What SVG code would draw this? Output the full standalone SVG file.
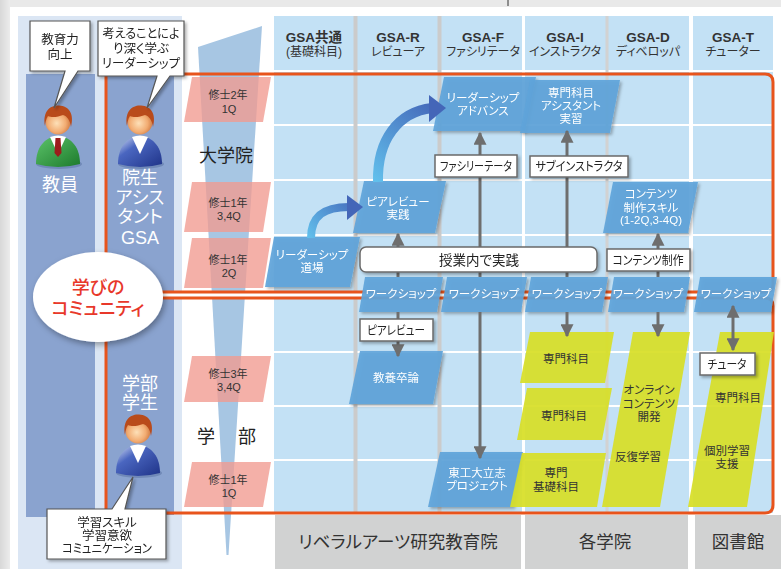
<svg xmlns="http://www.w3.org/2000/svg" xmlns:xlink="http://www.w3.org/1999/xlink" width="781" height="569" viewBox="0 0 781 569">
  <style>
    text{font-family:'Liberation Sans','Noto Sans CJK JP',sans-serif;font-feature-settings:"palt" 1;text-anchor:middle}
    .hdr{font-size:13.5px;font-weight:bold;fill:#333}
    .hsub{font-size:12px;fill:#333}
    .wt{font-size:11.5px;fill:#fff}
    .dk{font-size:11.5px;fill:#333}
    .yr{font-size:11px;fill:#333}
    .bub{font-size:12.5px;fill:#222}
    .lbt{font-size:12.5px;fill:#222}
    .side{font-size:18px;fill:#fff}
    .foot{font-size:17.5px;fill:#333}
    .blue{fill:#5ea4da;fill-opacity:.92}
    .yel{fill:#d7df27;fill-opacity:.93}
    .pink{fill:#f19a90;fill-opacity:.78}
    .lbl{fill:#fff;stroke:#6a6a6a;stroke-width:1.5}
    .bubble{fill:#fff;stroke:#555;stroke-width:1.2}
    .conn{stroke:#6e6e6e;stroke-width:3;fill:none}
    .grid-w{stroke:#fff;stroke-width:2}
    .orange{fill:none;stroke:#e8541c;stroke-width:3}
  </style>
  <defs>
    <filter id="sh" x="-20%" y="-20%" width="150%" height="160%">
      <feDropShadow dx="2" dy="2" stdDeviation="1.4" flood-color="#000" flood-opacity=".3"/>
    </filter>
    <filter id="shBig" x="-30%" y="-30%" width="160%" height="170%">
      <feDropShadow dx="2" dy="3" stdDeviation="3" flood-color="#000" flood-opacity=".35"/>
    </filter>
    <linearGradient id="pageEdge" x1="0" y1="0" x2="1" y2="0">
      <stop offset="0" stop-color="#d8d8d8"/>
      <stop offset="1" stop-color="#ececec"/>
    </linearGradient>
    <radialGradient id="face" cx=".45" cy=".55" r=".6">
      <stop offset="0" stop-color="#fde0b8"/>
      <stop offset=".6" stop-color="#f2ac72"/>
      <stop offset="1" stop-color="#c9713a"/>
    </radialGradient>
    <linearGradient id="suitG" x1="0" y1="0" x2="1" y2="1">
      <stop offset="0" stop-color="#5cc46a"/>
      <stop offset="1" stop-color="#1d7a2c"/>
    </linearGradient>
    <linearGradient id="suitB" x1="0" y1="0" x2="1" y2="1">
      <stop offset="0" stop-color="#dfe6f6"/>
      <stop offset=".35" stop-color="#4a66c0"/>
      <stop offset="1" stop-color="#1f3388"/>
    </linearGradient>
    <linearGradient id="curveA" gradientUnits="userSpaceOnUse" x1="310" y1="240" x2="360" y2="200">
      <stop offset="0" stop-color="#62c0ec"/>
      <stop offset="1" stop-color="#4466b8"/>
    </linearGradient>
    <linearGradient id="curveB" gradientUnits="userSpaceOnUse" x1="376" y1="182" x2="440" y2="105">
      <stop offset="0" stop-color="#62c0ec"/>
      <stop offset="1" stop-color="#4466b8"/>
    </linearGradient>
    <marker id="ah" viewBox="0 0 10 10" refX="9" refY="5" markerWidth="13" markerHeight="13" markerUnits="userSpaceOnUse" orient="auto-start-reverse">
      <path d="M0,0 L10,5 L0,10 Z" fill="#6e6e6e"/>
    </marker>
    <!-- person parts, origin at the centre of the head -->
    <g id="head">
      <circle cx="0" cy="0" r="12.5" fill="url(#face)"/>
      <path d="M-13,4 C-16,-12 -6,-17.5 1,-16.5 C11,-16 16.5,-8 13,5 C12,-2 9,-6 5,-7 C0,-5 -6,-4 -10,-6 C-12,-3 -12.5,0 -13,4 Z" fill="#b94b1b"/>
    </g>
    <g id="shirt">
      <path d="M-8,15 L0,32 L8,15 Q0,12 -8,15 Z" fill="#fff"/>
    </g>
    <path id="torso" d="M-22,42 C-22,26 -14,15 0,14 C14,15 22,26 22,42 Q0,48 -22,42 Z"/>
  </defs>

  <!-- page -->
  <rect x="0" y="0" width="781" height="569" fill="#e9e9e9"/>
  <rect x="0" y="0" width="10" height="569" fill="url(#pageEdge)"/>
  <rect x="10" y="7" width="771" height="562" fill="#fff"/>
  <line x1="508" y1="0" x2="508" y2="6" stroke="#333" stroke-width="1"/>

  <!-- left panel with the two role columns -->
  <rect x="18" y="16" width="164" height="553" fill="#dbe6f4"/>
  <rect x="26" y="74" width="69" height="443" fill="#8aa3cf"/>
  <rect x="106" y="75" width="68" height="440" fill="#8aa3cf"/>

  <!-- funnel behind the year labels -->
  <polygon points="198,47 262,26 228.5,555 226.5,555" fill="#a7c6e3"/>

  <!-- column header and body grid -->
  <rect x="274" y="16" width="499" height="497" fill="#c3e1f5"/>
  <rect x="274" y="70" width="499" height="2" fill="#fff"/>
  <g class="grid-w">
    <line x1="274" y1="125" x2="773" y2="125"/>
    <line x1="274" y1="180" x2="773" y2="180"/>
    <line x1="274" y1="235" x2="773" y2="235"/>
    <line x1="274" y1="352" x2="773" y2="352"/>
    <line x1="274" y1="406" x2="773" y2="406"/>
    <line x1="274" y1="460" x2="773" y2="460"/>
  </g>
  <rect x="353.5" y="16" width="4" height="497" fill="#cbcbcb"/>
  <rect x="437.5" y="16" width="4" height="497" fill="#cbcbcb"/>
  <rect x="522" y="16" width="3" height="497" fill="#fff"/>
  <rect x="605.5" y="16" width="3" height="497" fill="#d2d2d2"/>
  <rect x="689" y="16" width="4" height="497" fill="#fff"/>

  <!-- column headers -->
  <g id="hdr-common"><text class="hdr" x="314" y="42">GSA共通</text><text class="hsub" x="314" y="56">(基礎科目)</text></g>
  <g id="hdr-r"><text class="hdr" x="398" y="42">GSA-R</text><text class="hsub" x="398" y="56">レビューア</text></g>
  <g id="hdr-f"><text class="hdr" x="483" y="42">GSA-F</text><text class="hsub" x="483" y="56">ファシリテータ</text></g>
  <g id="hdr-i"><text class="hdr" x="565" y="42">GSA-I</text><text class="hsub" x="565" y="56">インストラクタ</text></g>
  <g id="hdr-d"><text class="hdr" x="648" y="42">GSA-D</text><text class="hsub" x="648" y="56">ディベロッパ</text></g>
  <g id="hdr-t"><text class="hdr" x="733" y="42">GSA-T</text><text class="hsub" x="733" y="56">チューター</text></g>

  <!-- footer -->
  <g id="footer">
    <rect x="275" y="515" width="246" height="54" fill="#d1d2d2"/>
    <rect x="525" y="515" width="163" height="54" fill="#d1d2d2"/>
    <rect x="695" y="515" width="86" height="54" fill="#d1d2d2"/>
    <text class="foot" x="398" y="548">リベラルアーツ研究教育院</text>
    <text class="foot" x="605" y="548">各学院</text>
    <text class="foot" x="738" y="548">図書館</text>
  </g>

  <!-- community frame: upper and lower bands -->
  <rect x="106" y="292" width="670" height="6" fill="#fff"/>
  <path class="orange" d="M106,292 V74 H765 Q773,74 773,82 V284 Q773,292 765,292 H106"/>
  <path class="orange" d="M106,298 H765 Q773,298 773,306 V505 Q773,513 765,513 H106 V298"/>

  <!-- year labels -->
  <g id="yr-m2-1q"><polygon class="pink" points="192,77 271,77 263,122 184,122"/><text class="yr" x="228" y="99">修士2年</text><text class="yr" x="229" y="113">1Q</text></g>
  <g id="yr-m1-34q"><polygon class="pink" points="192,182 271,182 263,232 184,232"/><text class="yr" x="228" y="207">修士1年</text><text class="yr" x="229" y="220">3,4Q</text></g>
  <g id="yr-m1-2q"><polygon class="pink" points="192,238 271,238 263,288 184,288"/><text class="yr" x="228" y="264">修士1年</text><text class="yr" x="229" y="277">2Q</text></g>
  <g id="yr-b3-34q"><polygon class="pink" points="192,356 271,356 263,402 184,402"/><text class="yr" x="228" y="378">修士3年</text><text class="yr" x="229" y="391">3,4Q</text></g>
  <g id="yr-b1-1q"><polygon class="pink" points="192,462 271,462 263,507 184,507"/><text class="yr" x="228" y="484">修士1年</text><text class="yr" x="229" y="497">1Q</text></g>

  <text x="226" y="162" font-size="18" fill="#222">大学院</text>
  <text x="206" y="443" font-size="18" fill="#222">学</text>
  <text x="247" y="443" font-size="18" fill="#222">部</text>

  <!-- role columns text -->
  <text class="side" x="60" y="191">教員</text>
  <g class="side">
    <text class="side" x="140" y="184">院生</text>
    <text class="side" x="140" y="204">アシス</text>
    <text class="side" x="140" y="223">タント</text>
    <text class="side" x="140" y="244">GSA</text>
    <text class="side" x="140" y="390">学部</text>
    <text class="side" x="140" y="409">学生</text>
  </g>

  <!-- people -->
  <g id="teacher" transform="translate(58,122)">
    <ellipse cx="1" cy="42" rx="23" ry="5" fill="#5f78a8" opacity=".6"/>
    <use xlink:href="#torso" fill="url(#suitG)"/>
    <use xlink:href="#shirt"/>
    <path d="M-2.5,16 L2.5,16 L3.5,31 L0,35 L-3.5,31 Z" fill="#9c1c1c"/>
    <use xlink:href="#head"/>
  </g>
  <g id="grad-student" transform="translate(140,122)">
    <ellipse cx="1" cy="42" rx="23" ry="5" fill="#5f78a8" opacity=".6"/>
    <use xlink:href="#torso" fill="url(#suitB)"/>
    <use xlink:href="#shirt"/>
    <use xlink:href="#head"/>
  </g>
  <g id="undergrad" transform="translate(138,431)">
    <ellipse cx="1" cy="42" rx="23" ry="5" fill="#5f78a8" opacity=".6"/>
    <use xlink:href="#torso" fill="url(#suitB)"/>
    <use xlink:href="#shirt"/>
    <use xlink:href="#head"/>
  </g>

  <!-- speech bubbles -->
  <g id="bubble-teacher" filter="url(#sh)">
    <path class="bubble" d="M30,21 H90 V71 H78 L54,108 L65,71 H30 Z"/>
    <text class="bub" x="60" y="44">教育力</text>
    <text class="bub" x="60" y="59">向上</text>
  </g>
  <g id="bubble-grad" filter="url(#sh)">
    <path class="bubble" d="M98,21 H184 V76 H170 L147,108 L157,76 H98 Z"/>
    <text class="bub" x="141" y="38" textLength="77" lengthAdjust="spacingAndGlyphs">考えることによ</text>
    <text class="bub" x="141" y="53">り深く学ぶ</text>
    <text class="bub" x="141" y="68" textLength="78" lengthAdjust="spacingAndGlyphs">リーダーシップ</text>
  </g>
  <g id="bubble-under" filter="url(#sh)">
    <path class="bubble" d="M47,509 H112 L133,477 L125,509 H166 V559 H47 Z"/>
    <text class="bub" x="107" y="527" font-size="11.5">学習スキル</text>
    <text class="bub" x="107" y="540" font-size="11.5">学習意欲</text>
    <text class="bub" x="107" y="553" font-size="11.5" textLength="90" lengthAdjust="spacingAndGlyphs">コミュニケーション</text>
  </g>

  <!-- community ellipse -->
  <g id="community">
    <ellipse cx="98" cy="297" rx="65" ry="45" fill="#fff" filter="url(#shBig)"/>
    <text x="98" y="294" font-size="18" font-weight="500" fill="#e8382a">学びの</text>
    <text x="98" y="315" font-size="18" font-weight="500" fill="#e8382a">コミュニティ</text>
  </g>

  <!-- blue activity nodes -->
  <g id="leader-adv" filter="url(#sh)"><polygon class="blue" points="444,77 536,77 525,131 433,131"/><text class="wt" x="483" y="102">リーダーシップ</text><text class="wt" x="483" y="115">アドバンス</text></g>
  <g id="asst-practice" filter="url(#sh)"><polygon class="blue" points="530,80 620,80 610,133 520,133"/><text class="wt" x="571" y="97">専門科目</text><text class="wt" x="571" y="110">アシスタント</text><text class="wt" x="571" y="123">実習</text></g>
  <g id="peer-practice" filter="url(#sh)"><polygon class="blue" points="364,181 446,181 435,233 353,233"/><text class="wt" x="398" y="206">ピアレビュー</text><text class="wt" x="398" y="219">実践</text></g>
  <g id="leader-dojo" filter="url(#sh)"><polygon class="blue" points="274,237 360,237 350,287 265,287"/><text class="wt" x="312" y="259">リーダーシップ</text><text class="wt" x="312" y="272">道場</text></g>
  <g id="content-skill" filter="url(#sh)"><polygon class="blue" points="613,182 698,182 688,233 603,233"/><text class="wt" x="651" y="198">コンテンツ</text><text class="wt" x="651" y="212">制作スキル</text><text class="wt" x="651" y="224" font-size="9.5">(1-2Q,3-4Q)</text></g>
  <g id="thesis" filter="url(#sh)"><polygon class="blue" points="360,351 443,351 433,404 349,404"/><text class="wt" x="396" y="382">教養卒論</text></g>
  <g id="project" filter="url(#sh)"><polygon class="blue" points="440,452 523,452 513,507 428,507"/><text class="wt" x="477" y="477">東工大立志</text><text class="wt" x="477" y="490">プロジェクト</text></g>

  <!-- workshops -->
  <g id="ws-r" filter="url(#sh)"><polygon class="blue" points="365,277 443,277 437,312 359,312"/><text class="wt" x="401" y="298">ワークショップ</text></g>
  <g id="ws-f" filter="url(#sh)"><polygon class="blue" points="447,277 527,277 521,312 441,312"/><text class="wt" x="484" y="298">ワークショップ</text></g>
  <g id="ws-i" filter="url(#sh)"><polygon class="blue" points="531,277 608,277 602,312 525,312"/><text class="wt" x="567" y="298">ワークショップ</text></g>
  <g id="ws-d" filter="url(#sh)"><polygon class="blue" points="614,277 690,277 684,312 608,312"/><text class="wt" x="648" y="298">ワークショップ</text></g>
  <g id="ws-t" filter="url(#sh)"><polygon class="blue" points="700,277 777,277 771,312 694,312"/><text class="wt" x="736" y="298">ワークショップ</text></g>

  <!-- course nodes -->
  <g id="major-1"><polygon class="yel" points="530,332 614,332 605,383 520,383"/><text class="dk" x="566" y="363">専門科目</text></g>
  <g id="major-2"><polygon class="yel" points="527,388 612,388 602,440 517,440"/><text class="dk" x="564" y="420">専門科目</text></g>
  <g id="major-basic"><polygon class="yel" points="522,453 606,453 597,507 510,507"/><text class="dk" x="556" y="477">専門</text><text class="dk" x="556" y="491">基礎科目</text></g>
  <g id="online"><polygon class="yel" points="633,332 690,332 660,507 602,507"/><text class="dk" x="649" y="394">オンライン</text><text class="dk" x="649" y="408">コンテンツ</text><text class="dk" x="649" y="421">開発</text><text class="dk" x="638" y="461">反復学習</text></g>
  <g id="tutoring"><polygon class="yel" points="720,332 774,332 747,507 688,507"/><text class="dk" x="738" y="402">専門科目</text><text class="dk" x="727" y="455">個別学習</text><text class="dk" x="727" y="468">支援</text></g>

  <!-- connectors -->
  <g id="connectors">
    <path d="M311,238 C311,215 325,207 349,207" fill="none" stroke="url(#curveA)" stroke-width="8"/>
    <polygon points="347,195 363,207 347,220" fill="#4466b8"/>
    <path d="M378,182 C377,140 398,112 432,108" fill="none" stroke="url(#curveB)" stroke-width="10"/>
    <polygon points="429,95 446,108 429,122" fill="#4466b8"/>
    <path class="conn" d="M480,277 V133" marker-end="url(#ah)"/>
    <path class="conn" d="M480,312 V458" marker-end="url(#ah)"/>
    <path class="conn" d="M398,277 V234" marker-end="url(#ah)"/>
    <path class="conn" d="M398,312 V356" marker-end="url(#ah)"/>
    <path class="conn" d="M567,277 V131" marker-end="url(#ah)"/>
    <path class="conn" d="M567,312 V336" marker-end="url(#ah)"/>
    <path class="conn" d="M658,277 V234" marker-end="url(#ah)"/>
    <path class="conn" d="M658,312 V336" marker-end="url(#ah)"/>
    <path class="conn" d="M733,306 V350" marker-start="url(#ah)" marker-end="url(#ah)"/>
  </g>

  <!-- connector labels -->
  <g id="in-class" filter="url(#sh)"><rect class="lbl" x="360" y="247" width="237" height="25" rx="6"/><text x="479" y="265" font-size="13.5" fill="#222">授業内で実践</text></g>
  <g id="lbl-facil" filter="url(#sh)"><rect class="lbl" x="435" y="155" width="82" height="22"/><text class="lbt" x="476" y="171" textLength="72" lengthAdjust="spacingAndGlyphs">ファシリーテータ</text></g>
  <g id="lbl-sub" filter="url(#sh)"><rect class="lbl" x="530" y="156" width="98" height="21"/><text class="lbt" x="579" y="171" textLength="87" lengthAdjust="spacingAndGlyphs">サブインストラクタ</text></g>
  <g id="lbl-content" filter="url(#sh)"><rect class="lbl" x="607" y="249" width="83" height="22"/><text class="lbt" x="648" y="265" textLength="71" lengthAdjust="spacingAndGlyphs">コンテンツ制作</text></g>
  <g id="lbl-peer" filter="url(#sh)"><rect class="lbl" x="360" y="319" width="73" height="22"/><text class="lbt" x="396" y="335" textLength="58" lengthAdjust="spacingAndGlyphs">ピアレビュー</text></g>
  <g id="lbl-tutor" filter="url(#sh)"><rect class="lbl" x="700" y="353" width="55" height="22"/><text class="lbt" x="727" y="369" textLength="39" lengthAdjust="spacingAndGlyphs">チュータ</text></g>
</svg>
